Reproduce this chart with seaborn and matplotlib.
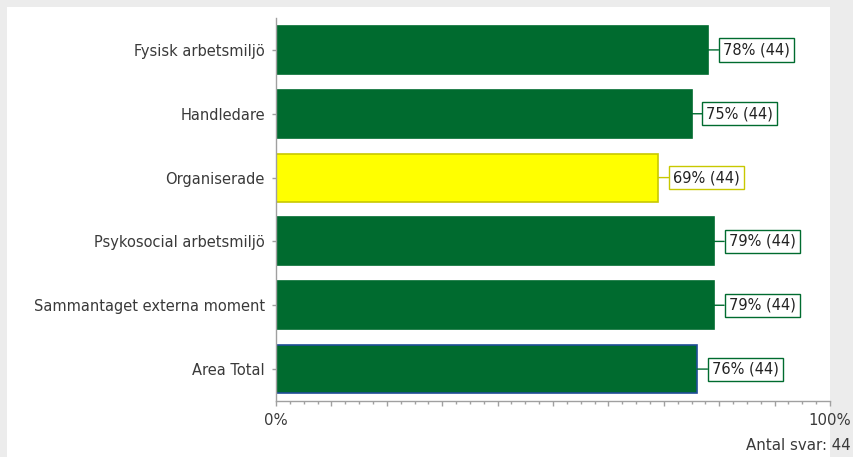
import matplotlib
matplotlib.use("Agg")
import matplotlib.pyplot as plt
from matplotlib.patches import Rectangle
from matplotlib.ticker import MultipleLocator
import seaborn as sns
import pandas as pd

# chart data
categories = ["Fysisk arbetsmiljö", "Handledare", "Organiserade",
              "Psykosocial arbetsmiljö", "Sammantaget externa moment", "Area Total"]
percent = [78, 75, 69, 79, 79, 76]
answers = [44, 44, 44, 44, 44, 44]
fill_colors = ["#006b2f", "#006b2f", "#ffff00", "#006b2f", "#006b2f", "#006b2f"]
edge_colors = ["#006b2f", "#006b2f", "#c8c800", "#006b2f", "#006b2f", "#1f4e96"]
label_edges = ["#006b2f", "#006b2f", "#c8c800", "#006b2f", "#006b2f", "#006b2f"]
x_ticks = list(range(0, 101, 10))
x_labels = ["0%"] + [""] * 9 + ["100%"]

df = pd.DataFrame({"cat": categories, "pct": percent})

sns.set_style("white")
plt.rcParams["font.family"] = ["DejaVu Sans"]

W, H = 854, 457
fig = plt.figure(figsize=(W / 100, H / 100), dpi=100)
fig.patch.set_facecolor("#ececec")
# white panel behind the chart
fig.patches.append(Rectangle((7 / W, 0), (830 - 7) / W, 1 - 7 / H,
                             transform=fig.transFigure, facecolor="white",
                             edgecolor="none", zorder=-5))

ax = fig.add_axes([276 / W, 1 - 401 / H, (830 - 276) / W, (401 - 18) / H])
ax.set_facecolor("none")

sns.barplot(data=df, y="cat", x="pct", hue="cat", palette=fill_colors,
            orient="h", width=0.75, legend=False, ax=ax, saturation=1)

for patch, ec in zip(ax.patches, edge_colors):
    patch.set_edgecolor(ec)
    patch.set_linewidth(1.2)

for i, (p, n) in enumerate(zip(percent, answers)):
    ax.annotate(f"{p}% ({n})", xy=(p, i), xytext=(15, 0), textcoords="offset pixels",
                va="center", ha="left", fontsize=10.5, color="#222222",
                bbox=dict(boxstyle="square,pad=0.28", fc="white", ec=label_edges[i], lw=1),
                arrowprops=dict(arrowstyle="-", color=label_edges[i], lw=1,
                                shrinkA=0, shrinkB=0))

ax.set_xlim(0, 100)
ax.set_ylim(5.5, -0.5)
ax.set_xlabel("")
ax.set_ylabel("")
ax.set_xticks(x_ticks, x_labels)
ax.xaxis.set_minor_locator(MultipleLocator(2.5))
ax.tick_params(axis="x", which="major", length=3.6, color="#a0a0a0", width=1,
               labelsize=10.7, labelcolor="#3a3a3a", pad=5, bottom=True)
ax.tick_params(axis="x", which="minor", length=1.8, color="#a0a0a0", width=1, bottom=True)
ax.tick_params(axis="y", length=3, color="#a0a0a0", width=1, left=True,
               labelsize=10.5, labelcolor="#3a3a3a", pad=5)

for side in ["top", "right"]:
    ax.spines[side].set_visible(False)
for side in ["left", "bottom"]:
    ax.spines[side].set_color("#a0a0a0")
    ax.spines[side].set_linewidth(1)

fig.text(851 / W, 1 - 446 / H, "Antal svar: 44", ha="right", va="center",
         fontsize=10.8, color="#3a3a3a")

fig.savefig("out.png", dpi=100, facecolor=fig.get_facecolor())
